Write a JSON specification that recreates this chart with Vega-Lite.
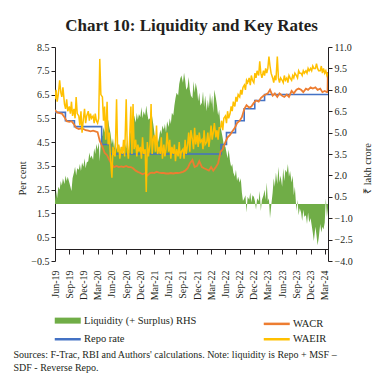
{
  "$schema": "https://vega.github.io/schema/vega-lite/v6.json",
  "autosize": "none",
  "padding": {"left": 55, "top": 47, "right": 56, "bottom": 126},
  "width": 273,
  "height": 214,
  "title": {"text": "Chart 10: Liquidity and Key Rates", "font": "Liberation Serif", "fontSize": 17, "fontWeight": "bold", "color": "#231f20", "anchor": "middle", "frame": "group", "offset": 7},
  "config": {
    "view": {"stroke": null},
    "axis": {"labelFont": "Liberation Serif", "labelFontSize": 10, "labelColor": "#231f20", "titleFont": "Liberation Serif", "titleFontSize": 10.5, "titleFontWeight": "normal", "titleColor": "#231f20", "domainColor": "#231f20", "tickColor": "#231f20", "grid": false, "tickSize": 4, "labelOverlap": false}
  },
  "datasets": {
    "liq": [
      {"d":"2019-06-01","v":0.2},{"d":"2019-06-08","v":0.9},{"d":"2019-06-15","v":0.4},{"d":"2019-06-22","v":1.2},
      {"d":"2019-07-01","v":1.0},{"d":"2019-07-08","v":1.6},{"d":"2019-07-15","v":1.3},{"d":"2019-07-22","v":1.8},
      {"d":"2019-08-01","v":1.4},{"d":"2019-08-08","v":2.0},{"d":"2019-08-15","v":1.6},{"d":"2019-08-22","v":1.9},
      {"d":"2019-09-01","v":1.5},{"d":"2019-09-08","v":1.2},{"d":"2019-09-15","v":0.9},{"d":"2019-09-22","v":1.8},
      {"d":"2019-10-01","v":2.2},{"d":"2019-10-08","v":2.6},{"d":"2019-10-15","v":2.0},{"d":"2019-10-22","v":2.5},
      {"d":"2019-11-01","v":2.4},{"d":"2019-11-08","v":2.8},{"d":"2019-11-15","v":2.3},{"d":"2019-11-22","v":2.9},
      {"d":"2019-12-01","v":2.6},{"d":"2019-12-08","v":3.2},{"d":"2019-12-15","v":2.5},{"d":"2019-12-22","v":2.9},
      {"d":"2020-01-01","v":3.0},{"d":"2020-01-08","v":3.6},{"d":"2020-01-15","v":3.2},{"d":"2020-01-22","v":3.4},
      {"d":"2020-02-01","v":3.1},{"d":"2020-02-08","v":3.9},{"d":"2020-02-15","v":3.5},{"d":"2020-02-22","v":4.2},
      {"d":"2020-03-01","v":3.8},{"d":"2020-03-08","v":4.3},{"d":"2020-03-15","v":3.0},{"d":"2020-03-22","v":4.6},
      {"d":"2020-04-01","v":4.8},{"d":"2020-04-08","v":5.4},{"d":"2020-04-15","v":5.0},{"d":"2020-04-22","v":5.8},
      {"d":"2020-05-01","v":5.2},{"d":"2020-05-08","v":5.9},{"d":"2020-05-15","v":5.4},{"d":"2020-05-22","v":5.0},
      {"d":"2020-06-01","v":4.2},{"d":"2020-06-08","v":4.6},{"d":"2020-06-15","v":3.9},{"d":"2020-06-22","v":4.4},
      {"d":"2020-07-01","v":3.8},{"d":"2020-07-08","v":4.4},{"d":"2020-07-15","v":3.6},{"d":"2020-07-22","v":4.1},
      {"d":"2020-08-01","v":3.5},{"d":"2020-08-08","v":4.0},{"d":"2020-08-15","v":3.4},{"d":"2020-08-22","v":4.3},
      {"d":"2020-09-01","v":3.9},{"d":"2020-09-08","v":4.5},{"d":"2020-09-15","v":3.2},{"d":"2020-09-22","v":4.8},
      {"d":"2020-10-01","v":5.1},{"d":"2020-10-08","v":5.8},{"d":"2020-10-15","v":5.4},{"d":"2020-10-22","v":6.2},
      {"d":"2020-11-01","v":5.7},{"d":"2020-11-08","v":6.4},{"d":"2020-11-15","v":5.9},{"d":"2020-11-22","v":6.3},
      {"d":"2020-12-01","v":6.1},{"d":"2020-12-08","v":6.8},{"d":"2020-12-15","v":6.0},{"d":"2020-12-22","v":6.5},
      {"d":"2021-01-01","v":6.2},{"d":"2021-01-08","v":6.9},{"d":"2021-01-15","v":6.3},{"d":"2021-01-22","v":5.9},
      {"d":"2021-02-01","v":6.0},{"d":"2021-02-08","v":6.6},{"d":"2021-02-15","v":6.1},{"d":"2021-02-22","v":5.6},
      {"d":"2021-03-01","v":5.0},{"d":"2021-03-08","v":4.4},{"d":"2021-03-15","v":4.8},{"d":"2021-03-22","v":4.2},
      {"d":"2021-04-01","v":4.7},{"d":"2021-04-08","v":5.2},{"d":"2021-04-15","v":4.9},{"d":"2021-04-22","v":5.5},
      {"d":"2021-05-01","v":5.2},{"d":"2021-05-08","v":5.6},{"d":"2021-05-15","v":5.0},{"d":"2021-05-22","v":5.8},
      {"d":"2021-06-01","v":5.4},{"d":"2021-06-08","v":6.0},{"d":"2021-06-15","v":5.6},{"d":"2021-06-22","v":6.4},
      {"d":"2021-07-01","v":6.2},{"d":"2021-07-08","v":6.9},{"d":"2021-07-15","v":7.4},{"d":"2021-07-22","v":7.8},
      {"d":"2021-08-01","v":7.6},{"d":"2021-08-08","v":8.4},{"d":"2021-08-15","v":8.8},{"d":"2021-08-22","v":9.0},
      {"d":"2021-09-01","v":8.5},{"d":"2021-09-08","v":9.2},{"d":"2021-09-15","v":8.7},{"d":"2021-09-22","v":8.0},
      {"d":"2021-10-01","v":8.2},{"d":"2021-10-08","v":8.9},{"d":"2021-10-15","v":8.0},{"d":"2021-10-22","v":7.6},
      {"d":"2021-11-01","v":7.4},{"d":"2021-11-08","v":8.6},{"d":"2021-11-15","v":7.8},{"d":"2021-11-22","v":8.5},
      {"d":"2021-12-01","v":8.0},{"d":"2021-12-08","v":7.2},{"d":"2021-12-15","v":7.8},{"d":"2021-12-22","v":6.9},
      {"d":"2022-01-01","v":7.1},{"d":"2022-01-08","v":7.9},{"d":"2022-01-15","v":6.8},{"d":"2022-01-22","v":7.6},
      {"d":"2022-02-01","v":6.5},{"d":"2022-02-08","v":7.3},{"d":"2022-02-15","v":6.7},{"d":"2022-02-22","v":7.8},
      {"d":"2022-03-01","v":7.0},{"d":"2022-03-08","v":7.6},{"d":"2022-03-15","v":6.4},{"d":"2022-03-22","v":8.0},
      {"d":"2022-04-01","v":7.4},{"d":"2022-04-08","v":6.9},{"d":"2022-04-15","v":6.2},{"d":"2022-04-22","v":6.6},
      {"d":"2022-05-01","v":5.4},{"d":"2022-05-08","v":5.0},{"d":"2022-05-15","v":4.6},{"d":"2022-05-22","v":4.1},
      {"d":"2022-06-01","v":4.0},{"d":"2022-06-08","v":3.6},{"d":"2022-06-15","v":3.2},{"d":"2022-06-22","v":3.8},
      {"d":"2022-07-01","v":3.0},{"d":"2022-07-08","v":2.6},{"d":"2022-07-15","v":2.8},{"d":"2022-07-22","v":2.2},
      {"d":"2022-08-01","v":1.9},{"d":"2022-08-08","v":2.4},{"d":"2022-08-15","v":1.6},{"d":"2022-08-22","v":1.9},
      {"d":"2022-09-01","v":1.5},{"d":"2022-09-08","v":1.8},{"d":"2022-09-15","v":0.8},{"d":"2022-09-22","v":0.2},
      {"d":"2022-10-01","v":0.4},{"d":"2022-10-08","v":0.6},{"d":"2022-10-15","v":-0.6},{"d":"2022-10-22","v":0.5},
      {"d":"2022-11-01","v":0.3},{"d":"2022-11-08","v":0.8},{"d":"2022-11-15","v":0.1},{"d":"2022-11-22","v":0.6},
      {"d":"2022-12-01","v":0.5},{"d":"2022-12-08","v":0.2},{"d":"2022-12-15","v":-0.4},{"d":"2022-12-22","v":0.4},
      {"d":"2023-01-01","v":0.2},{"d":"2023-01-08","v":0.9},{"d":"2023-01-15","v":-0.5},{"d":"2023-01-22","v":0.3},
      {"d":"2023-02-01","v":0.6},{"d":"2023-02-08","v":1.0},{"d":"2023-02-15","v":0.3},{"d":"2023-02-22","v":1.5},
      {"d":"2023-03-01","v":0.2},{"d":"2023-03-08","v":0.4},{"d":"2023-03-15","v":-1.0},{"d":"2023-03-22","v":-0.2},
      {"d":"2023-04-01","v":0.8},{"d":"2023-04-08","v":1.8},{"d":"2023-04-15","v":1.2},{"d":"2023-04-22","v":2.2},
      {"d":"2023-05-01","v":1.4},{"d":"2023-05-08","v":2.6},{"d":"2023-05-15","v":1.5},{"d":"2023-05-22","v":2.0},
      {"d":"2023-06-01","v":1.2},{"d":"2023-06-08","v":2.5},{"d":"2023-06-15","v":1.6},{"d":"2023-06-22","v":2.4},
      {"d":"2023-07-01","v":2.2},{"d":"2023-07-08","v":2.8},{"d":"2023-07-15","v":1.9},{"d":"2023-07-22","v":2.3},
      {"d":"2023-08-01","v":1.5},{"d":"2023-08-08","v":2.0},{"d":"2023-08-15","v":0.6},{"d":"2023-08-22","v":1.2},
      {"d":"2023-09-01","v":-0.5},{"d":"2023-09-08","v":0.3},{"d":"2023-09-15","v":-0.8},{"d":"2023-09-22","v":-0.3},
      {"d":"2023-10-01","v":-0.6},{"d":"2023-10-08","v":-1.2},{"d":"2023-10-15","v":-0.4},{"d":"2023-10-22","v":-0.9},
      {"d":"2023-11-01","v":-0.8},{"d":"2023-11-08","v":-1.4},{"d":"2023-11-15","v":-0.6},{"d":"2023-11-22","v":-1.3},
      {"d":"2023-12-01","v":-1.0},{"d":"2023-12-08","v":-1.5},{"d":"2023-12-15","v":-2.0},{"d":"2023-12-22","v":-2.6},
      {"d":"2024-01-01","v":-1.6},{"d":"2024-01-08","v":-2.2},{"d":"2024-01-15","v":-2.9},{"d":"2024-01-22","v":-2.4},
      {"d":"2024-02-01","v":-1.4},{"d":"2024-02-08","v":-2.0},{"d":"2024-02-15","v":-1.6},{"d":"2024-02-22","v":-1.8},
      {"d":"2024-03-01","v":-1.3},{"d":"2024-03-08","v":0.4},{"d":"2024-03-15","v":-0.9},{"d":"2024-03-22","v":-0.3}
    ],
    "waeir": [
      {"d":"2019-06-01","v":6.3},{"d":"2019-06-08","v":6.7},{"d":"2019-06-15","v":6.2},{"d":"2019-06-22","v":6.5},
      {"d":"2019-07-01","v":7.1},{"d":"2019-07-08","v":6.6},{"d":"2019-07-15","v":6.4},{"d":"2019-07-22","v":6.8},
      {"d":"2019-08-01","v":6.1},{"d":"2019-08-08","v":5.9},{"d":"2019-08-15","v":6.3},{"d":"2019-08-22","v":5.8},
      {"d":"2019-09-01","v":6.0},{"d":"2019-09-08","v":5.7},{"d":"2019-09-15","v":6.2},{"d":"2019-09-22","v":5.6},
      {"d":"2019-10-01","v":5.9},{"d":"2019-10-08","v":5.5},{"d":"2019-10-15","v":6.4},{"d":"2019-10-22","v":5.7},
      {"d":"2019-11-01","v":5.6},{"d":"2019-11-08","v":5.2},{"d":"2019-11-15","v":5.8},{"d":"2019-11-22","v":4.9},
      {"d":"2019-12-01","v":5.5},{"d":"2019-12-08","v":5.9},{"d":"2019-12-15","v":5.3},{"d":"2019-12-22","v":5.6},
      {"d":"2020-01-01","v":5.8},{"d":"2020-01-08","v":5.4},{"d":"2020-01-15","v":5.7},{"d":"2020-01-22","v":5.5},
      {"d":"2020-02-01","v":5.6},{"d":"2020-02-08","v":5.3},{"d":"2020-02-15","v":5.7},{"d":"2020-02-22","v":5.4},
      {"d":"2020-03-01","v":5.3},{"d":"2020-03-08","v":5.5},{"d":"2020-03-15","v":8.0},{"d":"2020-03-22","v":6.5},
      {"d":"2020-04-01","v":6.4},{"d":"2020-04-08","v":5.4},{"d":"2020-04-15","v":6.0},{"d":"2020-04-22","v":4.6},
      {"d":"2020-05-01","v":6.2},{"d":"2020-05-08","v":4.4},{"d":"2020-05-15","v":4.9},{"d":"2020-05-22","v":3.9},
      {"d":"2020-06-01","v":3.0},{"d":"2020-06-08","v":4.3},{"d":"2020-06-15","v":4.0},{"d":"2020-06-22","v":3.9},
      {"d":"2020-07-01","v":6.3},{"d":"2020-07-08","v":4.1},{"d":"2020-07-15","v":4.4},{"d":"2020-07-22","v":3.8},
      {"d":"2020-08-01","v":4.3},{"d":"2020-08-08","v":4.0},{"d":"2020-08-15","v":4.6},{"d":"2020-08-22","v":3.9},
      {"d":"2020-09-01","v":6.3},{"d":"2020-09-08","v":4.2},{"d":"2020-09-15","v":3.8},{"d":"2020-09-22","v":4.5},
      {"d":"2020-10-01","v":6.0},{"d":"2020-10-08","v":4.0},{"d":"2020-10-15","v":6.1},{"d":"2020-10-22","v":4.2},
      {"d":"2020-11-01","v":4.6},{"d":"2020-11-08","v":3.9},{"d":"2020-11-15","v":4.4},{"d":"2020-11-22","v":4.1},
      {"d":"2020-12-01","v":4.3},{"d":"2020-12-08","v":3.8},{"d":"2020-12-15","v":4.7},{"d":"2020-12-22","v":4.0},
      {"d":"2021-01-01","v":4.2},{"d":"2021-01-08","v":2.4},{"d":"2021-01-15","v":4.5},{"d":"2021-01-22","v":3.9},
      {"d":"2021-02-01","v":4.4},{"d":"2021-02-08","v":6.1},{"d":"2021-02-15","v":4.0},{"d":"2021-02-22","v":4.6},
      {"d":"2021-03-01","v":4.8},{"d":"2021-03-08","v":4.1},{"d":"2021-03-15","v":5.2},{"d":"2021-03-22","v":4.0},
      {"d":"2021-04-01","v":4.3},{"d":"2021-04-08","v":4.0},{"d":"2021-04-15","v":4.7},{"d":"2021-04-22","v":3.8},
      {"d":"2021-05-01","v":4.4},{"d":"2021-05-08","v":3.9},{"d":"2021-05-15","v":4.2},{"d":"2021-05-22","v":4.9},
      {"d":"2021-06-01","v":4.1},{"d":"2021-06-08","v":4.6},{"d":"2021-06-15","v":3.8},{"d":"2021-06-22","v":4.3},
      {"d":"2021-07-01","v":4.0},{"d":"2021-07-08","v":4.4},{"d":"2021-07-15","v":3.7},{"d":"2021-07-22","v":4.2},
      {"d":"2021-08-01","v":3.9},{"d":"2021-08-08","v":4.5},{"d":"2021-08-15","v":3.8},{"d":"2021-08-22","v":4.1},
      {"d":"2021-09-01","v":4.2},{"d":"2021-09-08","v":3.8},{"d":"2021-09-15","v":4.6},{"d":"2021-09-22","v":4.0},
      {"d":"2021-10-01","v":4.4},{"d":"2021-10-08","v":4.9},{"d":"2021-10-15","v":4.1},{"d":"2021-10-22","v":5.0},
      {"d":"2021-11-01","v":4.6},{"d":"2021-11-08","v":4.2},{"d":"2021-11-15","v":5.1},{"d":"2021-11-22","v":4.4},
      {"d":"2021-12-01","v":4.8},{"d":"2021-12-08","v":4.3},{"d":"2021-12-15","v":4.9},{"d":"2021-12-22","v":4.5},
      {"d":"2022-01-01","v":4.6},{"d":"2022-01-08","v":4.2},{"d":"2022-01-15","v":5.0},{"d":"2022-01-22","v":4.4},
      {"d":"2022-02-01","v":4.5},{"d":"2022-02-08","v":4.9},{"d":"2022-02-15","v":4.3},{"d":"2022-02-22","v":4.7},
      {"d":"2022-03-01","v":5.2},{"d":"2022-03-08","v":4.6},{"d":"2022-03-15","v":4.9},{"d":"2022-03-22","v":5.3},
      {"d":"2022-04-01","v":4.7},{"d":"2022-04-08","v":5.0},{"d":"2022-04-15","v":4.6},{"d":"2022-04-22","v":5.1},
      {"d":"2022-05-01","v":5.1},{"d":"2022-05-08","v":5.4},{"d":"2022-05-15","v":5.0},{"d":"2022-05-22","v":5.5},
      {"d":"2022-06-01","v":5.6},{"d":"2022-06-08","v":5.3},{"d":"2022-06-15","v":5.8},{"d":"2022-06-22","v":5.5},
      {"d":"2022-07-01","v":5.7},{"d":"2022-07-08","v":6.0},{"d":"2022-07-15","v":5.8},{"d":"2022-07-22","v":6.2},
      {"d":"2022-08-01","v":6.0},{"d":"2022-08-08","v":6.4},{"d":"2022-08-15","v":6.2},{"d":"2022-08-22","v":6.5},
      {"d":"2022-09-01","v":6.4},{"d":"2022-09-08","v":6.7},{"d":"2022-09-15","v":6.5},{"d":"2022-09-22","v":6.8},
      {"d":"2022-10-01","v":6.9},{"d":"2022-10-08","v":6.7},{"d":"2022-10-15","v":7.1},{"d":"2022-10-22","v":7.0},
      {"d":"2022-11-01","v":7.2},{"d":"2022-11-08","v":6.9},{"d":"2022-11-15","v":7.3},{"d":"2022-11-22","v":7.1},
      {"d":"2022-12-01","v":7.0},{"d":"2022-12-08","v":7.4},{"d":"2022-12-15","v":7.2},{"d":"2022-12-22","v":7.5},
      {"d":"2023-01-01","v":7.3},{"d":"2023-01-08","v":7.9},{"d":"2023-01-15","v":7.4},{"d":"2023-01-22","v":7.2},
      {"d":"2023-02-01","v":7.5},{"d":"2023-02-08","v":7.3},{"d":"2023-02-15","v":7.6},{"d":"2023-02-22","v":7.4},
      {"d":"2023-03-01","v":7.6},{"d":"2023-03-08","v":8.1},{"d":"2023-03-15","v":7.7},{"d":"2023-03-22","v":7.4},
      {"d":"2023-04-01","v":7.2},{"d":"2023-04-08","v":7.0},{"d":"2023-04-15","v":7.3},{"d":"2023-04-22","v":7.1},
      {"d":"2023-05-01","v":8.1},{"d":"2023-05-08","v":7.2},{"d":"2023-05-15","v":7.0},{"d":"2023-05-22","v":7.2},
      {"d":"2023-06-01","v":7.1},{"d":"2023-06-08","v":7.0},{"d":"2023-06-15","v":7.3},{"d":"2023-06-22","v":7.1},
      {"d":"2023-07-01","v":7.2},{"d":"2023-07-08","v":7.0},{"d":"2023-07-15","v":7.3},{"d":"2023-07-22","v":7.2},
      {"d":"2023-08-01","v":7.1},{"d":"2023-08-08","v":7.3},{"d":"2023-08-15","v":7.2},{"d":"2023-08-22","v":7.4},
      {"d":"2023-09-01","v":7.3},{"d":"2023-09-08","v":7.2},{"d":"2023-09-15","v":7.5},{"d":"2023-09-22","v":7.4},
      {"d":"2023-10-01","v":7.4},{"d":"2023-10-08","v":7.3},{"d":"2023-10-15","v":7.5},{"d":"2023-10-22","v":7.4},
      {"d":"2023-11-01","v":7.5},{"d":"2023-11-08","v":7.4},{"d":"2023-11-15","v":7.6},{"d":"2023-11-22","v":7.5},
      {"d":"2023-12-01","v":7.6},{"d":"2023-12-08","v":7.5},{"d":"2023-12-15","v":7.7},{"d":"2023-12-22","v":7.6},
      {"d":"2024-01-01","v":7.6},{"d":"2024-01-08","v":7.8},{"d":"2024-01-15","v":7.6},{"d":"2024-01-22","v":7.5},
      {"d":"2024-02-01","v":7.5},{"d":"2024-02-08","v":7.7},{"d":"2024-02-15","v":7.4},{"d":"2024-02-22","v":7.6},
      {"d":"2024-03-01","v":7.4},{"d":"2024-03-08","v":7.5},{"d":"2024-03-15","v":7.3},{"d":"2024-03-22","v":7.4}
    ],
    "wacr": [
      {"d":"2019-06-01","v":5.85},{"d":"2019-06-15","v":5.75},{"d":"2019-07-01","v":5.72},{"d":"2019-07-15","v":5.70},
      {"d":"2019-08-01","v":5.55},{"d":"2019-08-15","v":5.38},{"d":"2019-09-01","v":5.35},{"d":"2019-09-15","v":5.38},
      {"d":"2019-10-01","v":5.25},{"d":"2019-10-15","v":5.10},{"d":"2019-11-01","v":5.05},{"d":"2019-11-15","v":5.08},
      {"d":"2019-12-01","v":5.05},{"d":"2019-12-15","v":5.00},{"d":"2020-01-01","v":4.98},{"d":"2020-01-15","v":4.95},
      {"d":"2020-02-01","v":4.98},{"d":"2020-02-15","v":4.95},{"d":"2020-03-01","v":4.92},{"d":"2020-03-15","v":4.55},
      {"d":"2020-04-01","v":4.30},{"d":"2020-04-15","v":4.05},{"d":"2020-05-01","v":3.95},{"d":"2020-05-15","v":3.75},
      {"d":"2020-06-01","v":3.55},{"d":"2020-06-15","v":3.45},{"d":"2020-07-01","v":3.50},{"d":"2020-07-15","v":3.45},
      {"d":"2020-08-01","v":3.48},{"d":"2020-08-15","v":3.45},{"d":"2020-09-01","v":3.50},{"d":"2020-09-15","v":3.45},
      {"d":"2020-10-01","v":3.45},{"d":"2020-10-15","v":3.40},{"d":"2020-11-01","v":3.30},{"d":"2020-11-15","v":3.25},
      {"d":"2020-12-01","v":3.20},{"d":"2020-12-15","v":3.15},{"d":"2021-01-01","v":3.20},{"d":"2021-01-15","v":3.10},
      {"d":"2021-02-01","v":3.20},{"d":"2021-02-15","v":3.22},{"d":"2021-03-01","v":3.20},{"d":"2021-03-15","v":3.25},
      {"d":"2021-04-01","v":3.22},{"d":"2021-04-15","v":3.20},{"d":"2021-05-01","v":3.20},{"d":"2021-05-15","v":3.18},
      {"d":"2021-06-01","v":3.18},{"d":"2021-06-15","v":3.20},{"d":"2021-07-01","v":3.18},{"d":"2021-07-15","v":3.20},
      {"d":"2021-08-01","v":3.20},{"d":"2021-08-15","v":3.22},{"d":"2021-09-01","v":3.25},{"d":"2021-09-15","v":3.30},
      {"d":"2021-10-01","v":3.40},{"d":"2021-10-15","v":3.60},{"d":"2021-11-01","v":3.75},{"d":"2021-11-15","v":3.45},
      {"d":"2021-12-01","v":3.50},{"d":"2021-12-15","v":3.70},{"d":"2022-01-01","v":3.45},{"d":"2022-01-15","v":3.40},
      {"d":"2022-02-01","v":3.35},{"d":"2022-02-15","v":3.30},{"d":"2022-03-01","v":3.45},{"d":"2022-03-15","v":3.30},
      {"d":"2022-04-01","v":3.45},{"d":"2022-04-15","v":3.60},{"d":"2022-05-01","v":4.10},{"d":"2022-05-15","v":4.20},
      {"d":"2022-06-01","v":4.50},{"d":"2022-06-15","v":4.70},{"d":"2022-07-01","v":4.80},{"d":"2022-07-15","v":4.95},
      {"d":"2022-08-01","v":5.10},{"d":"2022-08-15","v":5.30},{"d":"2022-09-01","v":5.40},{"d":"2022-09-15","v":5.55},
      {"d":"2022-10-01","v":5.90},{"d":"2022-10-15","v":6.05},{"d":"2022-11-01","v":5.95},{"d":"2022-11-15","v":6.00},
      {"d":"2022-12-01","v":6.15},{"d":"2022-12-15","v":6.25},{"d":"2023-01-01","v":6.20},{"d":"2023-01-15","v":6.35},
      {"d":"2023-02-01","v":6.45},{"d":"2023-02-15","v":6.50},{"d":"2023-03-01","v":6.55},{"d":"2023-03-15","v":6.70},
      {"d":"2023-04-01","v":6.45},{"d":"2023-04-15","v":6.55},{"d":"2023-05-01","v":6.40},{"d":"2023-05-15","v":6.55},
      {"d":"2023-06-01","v":6.45},{"d":"2023-06-15","v":6.40},{"d":"2023-07-01","v":6.50},{"d":"2023-07-15","v":6.40},
      {"d":"2023-08-01","v":6.65},{"d":"2023-08-15","v":6.55},{"d":"2023-09-01","v":6.70},{"d":"2023-09-15","v":6.75},
      {"d":"2023-10-01","v":6.70},{"d":"2023-10-15","v":6.60},{"d":"2023-11-01","v":6.75},{"d":"2023-11-15","v":6.70},
      {"d":"2023-12-01","v":6.80},{"d":"2023-12-15","v":6.75},{"d":"2024-01-01","v":6.80},{"d":"2024-01-15","v":6.70},
      {"d":"2024-02-01","v":6.75},{"d":"2024-02-15","v":6.60},{"d":"2024-03-01","v":6.65},{"d":"2024-03-15","v":6.60},
      {"d":"2024-03-19","v":6.60},{"d":"2024-03-21","v":7.45}
    ],
    "repo": [
      {"d":"2019-06-01","v":5.75},{"d":"2019-08-07","v":5.40},{"d":"2019-10-04","v":5.15},{"d":"2020-03-27","v":4.40},
      {"d":"2020-05-22","v":4.00},{"d":"2022-05-04","v":4.40},{"d":"2022-06-08","v":4.90},{"d":"2022-08-05","v":5.40},
      {"d":"2022-09-30","v":5.90},{"d":"2022-12-07","v":6.25},{"d":"2023-02-08","v":6.50},{"d":"2024-03-22","v":6.50}
    ]
  },
  "encoding": {
    "x": {
      "field": "d", "type": "temporal",
      "scale": {"type": "utc", "domain": [{"year": 2019, "month": 6, "date": 1, "utc": true}, {"year": 2024, "month": 3, "date": 22, "utc": true}]},
      "axis": {
        "values": [
          {"year":2019,"month":6,"date":1,"utc":true},{"year":2019,"month":9,"date":1,"utc":true},{"year":2019,"month":12,"date":1,"utc":true},
          {"year":2020,"month":3,"date":1,"utc":true},{"year":2020,"month":6,"date":1,"utc":true},{"year":2020,"month":9,"date":1,"utc":true},{"year":2020,"month":12,"date":1,"utc":true},
          {"year":2021,"month":3,"date":1,"utc":true},{"year":2021,"month":6,"date":1,"utc":true},{"year":2021,"month":9,"date":1,"utc":true},{"year":2021,"month":12,"date":1,"utc":true},
          {"year":2022,"month":3,"date":1,"utc":true},{"year":2022,"month":6,"date":1,"utc":true},{"year":2022,"month":9,"date":1,"utc":true},{"year":2022,"month":12,"date":1,"utc":true},
          {"year":2023,"month":3,"date":1,"utc":true},{"year":2023,"month":6,"date":1,"utc":true},{"year":2023,"month":9,"date":1,"utc":true},{"year":2023,"month":12,"date":1,"utc":true},
          {"year":2024,"month":3,"date":1,"utc":true}
        ],
        "labelExpr": "utcFormat(datum.value, '%b-%y')",
        "labelAngle": 270, "labelAlign": "right", "labelBaseline": "middle",
        "offset": -12, "tickSize": 5, "labelPadding": 16,
        "title": ["Sources: F-Trac, RBI and Authors' calculations. Note: liquidity is Repo + MSF –", "SDF - Reverse Repo."],
        "titleFontSize": 10, "titleAnchor": "start", "titleAlign": "left", "titleBaseline": "top", "titleAngle": 0,
        "titleX": -42, "titleY": 100, "titleLineHeight": 13.5
      }
    }
  },
  "layer": [
    {
      "data": {"name": "liq"},
      "mark": {"type": "area", "color": "#70ad47", "clip": true},
      "encoding": {
        "y": {"field": "v", "type": "quantitative", "stack": null,
          "scale": {"domain": [-4, 11], "nice": false, "zero": false},
          "axis": {"orient": "right", "values": [-4, -2.5, -1, 0.5, 2, 3.5, 5, 6.5, 8, 9.5, 11], "format": ".1f", "labelOverlap": false,
            "title": "₹ lakh crore", "titleAngle": 270, "titleX": 39, "titleY": 121, "titleAlign": "center", "titleBaseline": "middle"}},
        "color": {"datum": "Liquidity (+ Surplus) RHS", "type": "nominal",
          "scale": {"domain": ["Liquidity (+ Surplus) RHS", "Repo rate", "WACR", "WAEIR"], "range": ["#70ad47", "#4472c4", "#ed7d31", "#ffc000"]},
          "legend": {"orient": "none", "legendX": 7.5, "legendY": 268, "columns": 2, "direction": "vertical", "title": null, "padding": 0,
            "symbolType": "M-2,0H2", "symbolSize": 169, "symbolStrokeWidth": 2.5, "labelOffset": 11,
            "columnPadding": 62, "rowPadding": 1, "labelFont": "Liberation Serif", "labelFontSize": 10.5, "labelColor": "#231f20",
            "encode": {"symbols": {"update": {
              "strokeWidth": {"signal": "datum.label === 'Liquidity (+ Surplus) RHS' ? 6 : 2.5"},
              "stroke": {"scale": "color", "field": "value"},
              "fill": {"value": "transparent"}}}}}}
      }
    },
    {
      "layer": [
        {
          "data": {"name": "repo"},
          "mark": {"type": "line", "interpolate": "step-after", "strokeWidth": 1.6, "clip": true},
          "encoding": {
            "y": {"field": "v", "type": "quantitative",
              "scale": {"domain": [-0.5, 8.5], "nice": false, "zero": false},
              "axis": {"orient": "left", "values": [-0.5, 0.5, 1.5, 2.5, 3.5, 4.5, 5.5, 6.5, 7.5, 8.5], "format": ".1f", "labelOverlap": false,
                "title": "Per cent", "titleAngle": 270, "titleX": -33, "titleY": 131, "titleAlign": "center", "titleBaseline": "middle"}},
            "color": {"datum": "Repo rate", "type": "nominal",
              "scale": {"domain": ["Liquidity (+ Surplus) RHS", "Repo rate", "WACR", "WAEIR"], "range": ["#70ad47", "#4472c4", "#ed7d31", "#ffc000"]}}
          }
        },
        {
          "data": {"name": "wacr"},
          "mark": {"type": "line", "strokeWidth": 1.8, "clip": true},
          "encoding": {
            "y": {"field": "v", "type": "quantitative", "axis": {"orient": "left", "values": [-0.5, 0.5, 1.5, 2.5, 3.5, 4.5, 5.5, 6.5, 7.5, 8.5], "format": ".1f", "labelOverlap": false,
                "title": "Per cent", "titleAngle": 270, "titleX": -33, "titleY": 131, "titleAlign": "center", "titleBaseline": "middle"}},
            "color": {"datum": "WACR", "type": "nominal",
              "scale": {"domain": ["Liquidity (+ Surplus) RHS", "Repo rate", "WACR", "WAEIR"], "range": ["#70ad47", "#4472c4", "#ed7d31", "#ffc000"]}}
          }
        },
        {
          "data": {"name": "waeir"},
          "mark": {"type": "line", "strokeWidth": 1.5, "clip": true},
          "encoding": {
            "y": {"field": "v", "type": "quantitative", "axis": {"orient": "left", "values": [-0.5, 0.5, 1.5, 2.5, 3.5, 4.5, 5.5, 6.5, 7.5, 8.5], "format": ".1f", "labelOverlap": false,
                "title": "Per cent", "titleAngle": 270, "titleX": -33, "titleY": 131, "titleAlign": "center", "titleBaseline": "middle"}},
            "color": {"datum": "WAEIR", "type": "nominal",
              "scale": {"domain": ["Liquidity (+ Surplus) RHS", "Repo rate", "WACR", "WAEIR"], "range": ["#70ad47", "#4472c4", "#ed7d31", "#ffc000"]}}
          }
        }
      ]
    }
  ],
  "resolve": {"scale": {"y": "independent"}}
}
